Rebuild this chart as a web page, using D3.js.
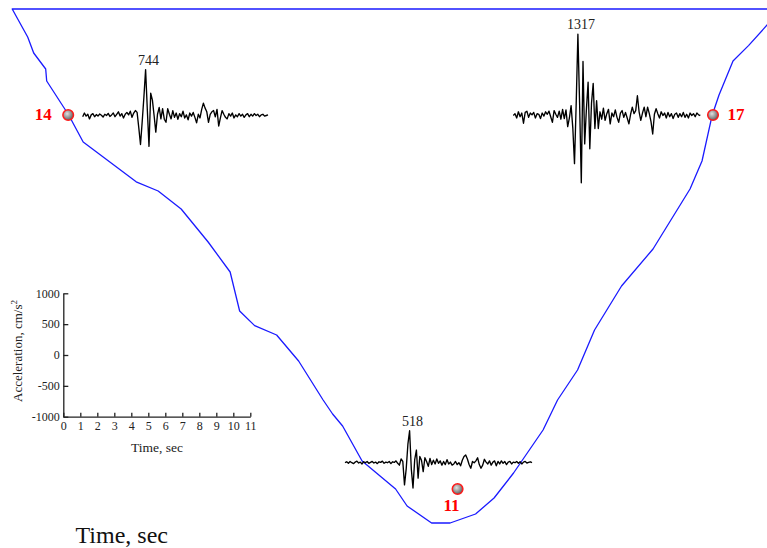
<!DOCTYPE html>
<html>
<head>
<meta charset="utf-8">
<script src="https://cdn.jsdelivr.net/npm/d3@7"></script>
<style>
  html, body { margin: 0; padding: 0; background: #fff; }
  svg { display: block; }
</style>
</head>
<body>
<svg id="chart" width="767" height="548"></svg>
<script>
// ---- Accelerograms (cm/s^2), sampled every timeStep seconds ----
const timeStep = 0.1;

const accel14 = [
  -20, 40, -10, 20, -55, 10, 30, -20,
  15, -10, 25, 5, -25, 20, 0, 35, -15, 10,
  40, -20, 20, 60, -10, 30, -40, 20, 50, 10,
  70, -30, 40, 80, 50, -200, -470, -100, 300, 744,
  100, -500, 360, 250, 0, -270, 20, 130, -55, 110,
  -60, -110, 110, 20, -55, 80, -30, 40, -60, 30,
  -20, 70, -40, 10, -70, 40, -10, 50, -30, -120,
  20, -40, 100, 200, 120, 60, -110, 20, 60, 80,
  -20, 100, -170, -40, 80, 20, -30, -55, 30, -10,
  40, -40, 10, -20, 30, -10, 20, -30, 10, 30,
  -20, 20, -10, 30, 0, 20, -20, 10, 20, -10,
  0, 10
];

const accel17 = [
  0, 30, -40, 60, -20, 40, -125, 50, 70, -30,
  40, 10, 50, -40, 30, 20, -50, 40, -10, 60,
  20, 70, -20, -110, 80, 20, -30, 70, -60, 100,
  -50, 90, -180, -40, 160, -200, -780, 200, 1317, 200,
  -1090, 875, -460, 100, 540, -540, 200, 520, -210, 240,
  -210, 60, -60, 120, -80, 30, 100, -135, 40, -20,
  90, -30, -110, 40, 80, -30, 50, -40, -135, 20,
  135, 30, 80, 320, 60, -80, 40, 135, -20, 135,
  30, -100, -300, 20, 110, 30, -40, 60, 0, 40,
  -40, 50, -20, 30, -50, 20, 40, -30, 30, -20,
  50, -30, 20, -40, 40, 0, 30, -20, 40, 10,
  0
];

const accel11 = [
  0, 15, -10, 20, 0, -15, 10, 25, -5, 10,
  -20, 15, 0, 20, -10, 5, 20, -5, 10, -15,
  15, 5, 25, -10, 10, 0, 20, -15, 15, 5,
  30, -10, -40, 60, 20, -360, -100, 300, 518, -100,
  -410, 50, 205, -250, 100, 40, -145, 80, 20, -60,
  70, -30, 40, -20, 60, -10, 30, -40, 20, -30,
  50, -20, 10, -40, -20, 20, -30, 0, -50, 40,
  100, 125, 60, -30, -90, 20, 0, 30, 80, -30,
  -90, -40, 55, 10, -20, 30, -40, 10, 30, -50,
  20, -20, 30, -10, 20, -30, 10, 20, -20, 10,
  0, 20, -10, 15, -20, 10, 20, -5, 5, 15,
  0
];

// ---- Stations on the valley section (distance, depth in m) ----
const stationNames = ["14", "17", "11"];
const stationDist  = [112, 1402, 891];
const stationDepth = [53, 53, 240];

// ---- Valley bedrock profile (distance, depth in m) ----
const profileDist  = [0, 31, 43, 67, 69, 113, 142, 248, 292, 338, 392, 436, 455, 485, 529, 573, 622, 641, 661, 700, 767, 790, 839, 876, 927, 964, 1003, 1062, 1091, 1131, 1165, 1219, 1282, 1356, 1380, 1400, 1414, 1442, 1473, 1539];
const profileDepth = [0, 14, 22, 30, 36, 53, 66.5, 86.4, 91, 100, 116.5, 131.5, 151, 158.3, 163, 176, 195.5, 202.5, 208.5, 226, 240, 248.5, 257, 257, 252.5, 244.5, 232, 210.5, 195.5, 180.5, 160.5, 138.5, 120, 90, 76, 53.4, 43, 26, 18.3, 0];

// ---- Inset axis ticks ----
const timeTicks  = [0, 1, 2, 3, 4, 5, 6, 7, 8, 9, 10, 11];
const accelTicks = [-1000, -500, 0, 500, 1000];

const serif = "'Liberation Serif', 'Times New Roman', Times, serif";
const svg = d3.select("#chart");

// Section scales
const xSec = d3.scaleLinear().domain([0, 1510]).range([12.2, 767]);
const ySec = d3.scaleLinear().domain([0, 257]).range([9, 523]);

// Inset (and record) scales
const xTime = d3.scaleLinear().domain([0, 11]).range([63.3, 250.3]);
const yAcc  = d3.scaleLinear().domain([-1000, 1000]).range([416.7, 293.3]);

// Gradient for station markers
const defs = svg.append("defs");
const grad = defs.append("radialGradient").attr("id", "ball")
  .attr("cx", "40%").attr("cy", "38%").attr("r", "65%");
grad.append("stop").attr("offset", "0%").attr("stop-color", "#e0e0e0");
grad.append("stop").attr("offset", "100%").attr("stop-color", "#5a5a5a");

// Valley outline: bedrock profile closed by the free surface
const profile = profileDist.map((d, i) => [d, profileDepth[i]]);
svg.append("path")
  .attr("d", d3.line().x(d => xSec(d[0])).y(d => ySec(d[1]))(profile) + "Z")
  .attr("fill", "none")
  .attr("stroke", "#1a1aff")
  .attr("stroke-width", 1.3)
  .attr("stroke-linejoin", "round");

// Inset axes
const gy = svg.append("g")
  .attr("transform", `translate(${xTime(0)},0)`)
  .call(d3.axisLeft(yAcc).tickValues(accelTicks).tickSize(-5).tickSizeOuter(0)
    .tickPadding(3.5).tickFormat(d => String(d)));
const gx = svg.append("g")
  .attr("transform", `translate(0,${yAcc(-1000)})`)
  .call(d3.axisBottom(xTime).tickValues(timeTicks).tickSize(-4).tickSizeOuter(0)
    .tickPadding(5).tickFormat(d => String(d)));
[gx, gy].forEach(g => {
  g.selectAll("path, line").attr("stroke", "#222").attr("stroke-width", 1.3);
  g.selectAll("text").attr("fill", "#222").style("font-family", serif).style("font-size", "12px");
});

svg.append("text")
  .attr("x", 157).attr("y", 452)
  .attr("text-anchor", "middle")
  .style("font-family", serif).style("font-size", "13.5px").attr("fill", "#222")
  .text("Time, sec");

const yl = svg.append("text")
  .attr("transform", "translate(22,351) rotate(-90)")
  .attr("text-anchor", "middle")
  .style("font-family", serif).style("font-size", "13px").attr("fill", "#222");
yl.append("tspan").text("Acceleration, cm/s");
yl.append("tspan").attr("dy", -5).style("font-size", "9px").text("2");

// Records, placed beside their stations
const records = [
  { data: accel14, x0: 82.7,  y0: 115.5 },
  { data: accel17, x0: 513.3, y0: 115.5 },
  { data: accel11, x0: 345,   y0: 462.7 }
];
const traceLine = d3.line().x((d, i) => xTime(i * timeStep)).y(d => yAcc(d));
records.forEach(r => {
  const g = svg.append("g")
    .attr("transform", `translate(${r.x0 - xTime(0)},${r.y0 - yAcc(0)})`);
  g.append("path")
    .attr("d", traceLine(r.data))
    .attr("fill", "none")
    .attr("stroke", "#000")
    .attr("stroke-width", 1.35)
    .attr("stroke-linejoin", "round");
  const ip = d3.maxIndex(r.data);
  g.append("text")
    .attr("x", xTime(ip * timeStep) + 3)
    .attr("y", yAcc(r.data[ip]) - 5)
    .attr("text-anchor", "middle")
    .style("font-family", serif).style("font-size", "14px").attr("fill", "#222")
    .text(r.data[ip]);
});

// Stations
const labelOffset = [[-25, -1], [23, -1], [-6, 16]];
stationNames.forEach((name, i) => {
  const cx = xSec(stationDist[i]), cy = ySec(stationDepth[i]);
  svg.append("circle")
    .attr("cx", cx).attr("cy", cy).attr("r", 5.3)
    .attr("fill", "url(#ball)")
    .attr("stroke", "#ff1a1a").attr("stroke-width", 1.5);
  svg.append("text")
    .attr("x", cx + labelOffset[i][0]).attr("y", cy + labelOffset[i][1])
    .attr("text-anchor", "middle").attr("dominant-baseline", "central")
    .style("font-family", serif).style("font-size", "17px").style("font-weight", "bold")
    .attr("fill", "#ff0000")
    .text(name);
});

// Bottom caption
svg.append("text")
  .attr("x", 75.5).attr("y", 543)
  .style("font-family", serif).style("font-size", "24px").attr("fill", "#111")
  .text("Time, sec");
</script>
</body>
</html>
